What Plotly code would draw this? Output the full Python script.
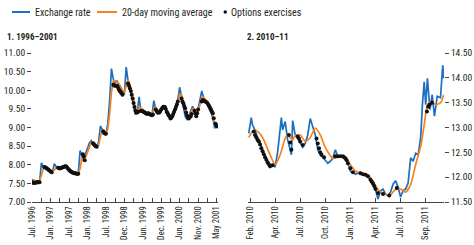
import plotly.graph_objects as go

# ---------------- Panel 1: 1996-2001 (observation index, tick every 10) ----------------
left_t = list(range(0, 102))
left_rate = [7.62, 7.55, 7.52, 7.55, 7.53, 8.05, 7.95, 7.93, 7.90, 7.86,
             7.82, 7.78, 8.03, 7.95, 7.92, 7.90, 7.93, 7.95, 7.98, 7.92,
             7.86, 7.82, 7.79, 7.77, 7.77, 7.76, 8.38, 8.25, 8.10, 8.30,
             8.45, 8.58, 8.65, 8.55, 8.50, 8.48, 8.60, 9.04, 8.95, 8.85,
             8.82, 9.10, 9.70, 10.58, 10.30, 10.20, 10.25, 10.15, 10.05, 9.95,
             9.88, 10.62, 10.25, 10.05, 9.85, 9.60, 9.35, 9.40, 9.82, 9.42,
             9.48, 9.40, 9.37, 9.40, 9.35, 9.33, 9.72, 9.50, 9.38, 9.42,
             9.50, 9.58, 9.55, 9.40, 9.33, 9.22, 9.30, 9.45, 9.60, 9.75,
             10.08, 9.80, 9.55, 9.30, 9.22, 9.30, 9.45, 9.57, 9.45, 9.27,
             9.50, 9.70, 9.98, 9.80, 9.72, 9.62, 9.50, 9.40, 9.25, 8.98,
             9.08, 9.05]
left_ma = [7.60, 7.58, 7.56, 7.55, 7.55, 7.70, 7.88, 7.93, 7.92, 7.89,
           7.85, 7.82, 7.85, 7.93, 7.94, 7.92, 7.92, 7.94, 7.96, 7.95,
           7.90, 7.85, 7.81, 7.78, 7.77, 7.76, 7.90, 8.20, 8.20, 8.20,
           8.33, 8.48, 8.60, 8.60, 8.53, 8.50, 8.52, 8.75, 8.95, 8.90,
           8.85, 8.95, 9.35, 9.95, 10.25, 10.25, 10.22, 10.18, 10.10, 10.00,
           9.95, 10.15, 10.28, 10.15, 9.98, 9.75, 9.52, 9.42, 9.55, 9.52,
           9.47, 9.43, 9.40, 9.39, 9.37, 9.35, 9.50, 9.55, 9.45, 9.42,
           9.46, 9.53, 9.55, 9.47, 9.38, 9.28, 9.28, 9.38, 9.52, 9.67,
           9.88, 9.88, 9.70, 9.45, 9.30, 9.28, 9.38, 9.50, 9.50, 9.38,
           9.42, 9.58, 9.80, 9.82, 9.76, 9.67, 9.56, 9.45, 9.32, 9.12,
           9.05, 9.05]
left_opt_t = [0, 0.5, 1, 1.5, 2, 2.5, 3, 3.5, 4,
              6.5, 7, 7.5, 8, 8.5, 9, 9.5, 10, 10.5,
              14, 14.5, 15, 15.5, 16, 16.5, 17, 17.5, 18, 18.5, 19, 19.5, 20, 20.5, 21, 21.5,
              22, 22.5, 23, 23.5, 24, 24.5, 25,
              27.5, 28, 28.5, 33, 33.5, 34, 34.5, 35, 38.5, 39, 39.5, 40,
              44, 44.5, 45, 45.5, 46, 46.5, 47, 47.5, 48, 48.5, 49,
              52, 52.5, 53, 53.5, 54, 54.5, 55, 55.5, 56, 56.5,
              57, 57.5, 59, 59.5, 60, 60.5, 61, 61.5, 62, 62.5, 63, 63.5, 64, 64.5, 65, 65.5,
              67, 67.5, 68, 68.5, 69, 69.5, 70, 70.5, 71, 71.5, 72, 72.5, 73, 73.5,
              74, 74.5, 75, 75.5, 76, 76.5, 77, 77.5, 78, 78.5, 79,
              81, 81.5, 82, 82.5, 83, 83.5, 84, 84.5, 85, 85.5, 86, 86.5, 88, 88.5,
              89, 89.5, 90, 92, 92.5, 93, 93.5, 94, 94.5, 95, 95.5, 96, 96.5, 97, 97.5,
              98, 98.5, 99.5, 100, 100.5]
left_opt_v = [7.53, 7.52, 7.52, 7.52, 7.52, 7.53, 7.53, 7.53, 7.53,
              7.94, 7.93, 7.92, 7.90, 7.88, 7.86, 7.84, 7.82, 7.80,
              7.92, 7.91, 7.90, 7.91, 7.92, 7.93, 7.94, 7.95, 7.96, 7.95, 7.92, 7.89, 7.86, 7.84, 7.82, 7.80,
              7.79, 7.78, 7.77, 7.77, 7.76, 7.76, 7.76,
              8.28, 8.22, 8.12, 8.58, 8.55, 8.52, 8.50, 8.48, 8.90, 8.85, 8.84, 8.83,
              10.15, 10.13, 10.12, 10.12, 10.12, 10.08, 10.02, 9.98, 9.95, 9.92, 9.88,
              10.18, 10.12, 10.05, 9.98, 9.88, 9.78, 9.66, 9.55, 9.45, 9.40,
              9.40, 9.42, 9.45, 9.44, 9.43, 9.42, 9.40, 9.39, 9.37, 9.37, 9.38, 9.37, 9.35, 9.34, 9.33, 9.35,
              9.48, 9.44, 9.40, 9.40, 9.40, 9.44, 9.48, 9.52, 9.55, 9.56, 9.55, 9.50, 9.42, 9.38,
              9.33, 9.30, 9.24, 9.26, 9.30, 9.36, 9.42, 9.48, 9.55, 9.62, 9.70,
              9.78, 9.70, 9.65, 9.58, 9.52, 9.40, 9.32, 9.26, 9.24, 9.28, 9.30, 9.36, 9.45, 9.38,
              9.30, 9.38, 9.48, 9.70, 9.74, 9.72, 9.71, 9.70, 9.68, 9.66, 9.62, 9.58, 9.53, 9.48, 9.43,
              9.38, 9.25, 9.10, 9.05, 9.03]
left_tick_t = list(range(0, 101, 10))
left_tick_lbl = ["Jul. 1996", "Jan. 1997", "Jul. 1997", "Jan. 1998", "Jul. 1998",
                 "Dec. 1998", "Jun. 1999", "Dec. 1999", "Jun. 2000", "Nov. 2000", "May 2001"]
left_minor_t = list(range(5, 100, 10))
left_y_ticks = [7.0, 7.5, 8.0, 8.5, 9.0, 9.5, 10.0, 10.5, 11.0]

# ---------------- Panel 2: 2010-11 (observation index, tick every 10) ----------------
right_t = [-0.5, 0, 0.5, 1, 2, 3, 4, 5, 6, 7, 8, 9, 10, 11, 12, 12.5, 13, 14, 15, 16,
           16.5, 17, 18, 19, 20, 21, 22, 23, 24, 25, 26, 27, 28, 29, 30, 31, 32, 33, 34, 35,
           36, 37, 38, 39, 40, 41, 42, 43, 44, 45, 46, 47, 48, 49, 50, 51, 52, 53, 54, 55,
           56, 57, 58, 59, 60, 61, 62, 63, 64, 65, 66, 67, 68, 68.7, 69.4, 70, 70.7, 71.7,
           72.6, 73.5, 74.6, 75.9, 76.8, 77.2]
right_rate = [12.88, 13.05, 13.20, 13.05, 12.95, 12.80, 12.70, 12.55, 12.42, 12.30,
              12.20, 12.25, 12.20, 12.50, 12.90, 13.20, 12.95, 13.12, 12.75, 12.55,
              12.45, 13.14, 12.85, 12.78, 12.70, 12.60, 12.68, 12.85, 13.18, 13.00,
              12.85, 12.55, 12.45, 12.40, 12.35, 12.28, 12.32, 12.38, 12.55, 12.42,
              12.43, 12.40, 12.38, 12.28, 12.12, 12.10, 12.06, 12.08, 12.10, 12.06,
              12.05, 12.00, 11.95, 11.83, 11.75, 11.56, 11.72, 11.76, 11.66, 11.63,
              11.70, 11.86, 11.93, 11.80, 11.60, 11.73, 11.76, 11.88, 12.39, 12.32,
              12.48, 12.45, 12.79, 13.46, 13.92, 13.46, 13.99, 13.36,
              13.66, 13.23, 13.63, 13.60, 14.25, 13.99]
right_ma_t = [-0.5, 1, 2, 3, 5, 8, 10, 12, 14, 15, 17, 18, 20, 22, 24, 26, 28, 30,
              33, 36, 38, 40, 42, 44, 47, 49, 51, 54, 56, 58, 60, 62, 64, 66, 68,
              69.4, 70.7, 72, 74, 76, 77.2]
right_ma = [12.80, 12.92, 12.95, 12.92, 12.80, 12.45, 12.25, 12.45, 12.78, 12.85,
            12.75, 12.84, 12.85, 12.72, 12.80, 12.99, 12.85, 12.60, 12.38, 12.42,
            12.40, 12.25, 12.12, 12.08, 12.05, 11.92, 11.75, 11.65, 11.65, 11.75,
            11.76, 11.70, 11.85, 12.25, 12.62, 13.05, 13.45, 13.52, 13.46, 13.50, 13.66]
right_opt_t = [1.5, 2, 2.5, 3, 3.5, 4, 4.5, 5, 5.5, 6, 6.5, 7, 7.5, 8, 9, 15.5, 16, 16.5,
               19, 19.5, 20, 21, 26.5, 27, 27.5, 28, 28.5, 29.5, 34, 35, 36, 37,
               37.5, 38, 38.5, 39, 40, 41, 44, 45, 46, 47, 48, 48.5, 49, 49.5, 50, 51, 53,
               55.5, 58.5, 70.5, 71, 71.5, 72.5]
right_opt_v = [12.92, 12.85, 12.80, 12.75, 12.72, 12.66, 12.58, 12.52, 12.46, 12.40, 12.35,
               12.30, 12.26, 12.22, 12.24,
               12.85, 12.70, 12.55, 12.82, 12.78, 12.72, 12.65, 12.78, 12.68, 12.58, 12.50, 12.45,
               12.40, 12.42, 12.42, 12.42, 12.42, 12.40, 12.38, 12.34, 12.28, 12.18, 12.10,
               12.08, 12.06, 12.05, 12.02, 11.95, 11.91, 11.87, 11.82, 11.76, 11.68, 11.66,
               11.63, 11.78, 13.32, 13.42, 13.46, 13.50]
right_tick_t = list(range(0, 71, 10))
right_tick_lbl = ["Feb. 2010", "Apr. 2010", "Jul. 2010", "Oct. 2010",
                  "Jan. 2011", "Apr. 2011", "Jul. 2011", "Sep. 2011"]
right_y_ticks = [11.5, 12.0, 12.5, 13.0, 13.5, 14.0, 14.5]

legend_names = ["Exchange rate", "20-day moving average", "Options exercises"]

BLUE = "#1f6fc0"
ORANGE = "#f7821e"
BLACK = "#111111"
TXT = "#231f20"
AX = "#444444"
FONT = "Liberation Sans Narrow, Arial Narrow, Roboto Condensed, Liberation Sans, sans-serif"

W, H = 474, 245
MT, MB = 53, 43
PH = H - MT - MB


def py(px):
    """paper y for a pixel row measured from the top"""
    return 1 + (MT - px) / PH


fig = go.Figure()

# panel 1
fig.add_trace(go.Scatter(x=left_t, y=left_rate, mode="lines", name=legend_names[0],
                         line=dict(color=BLUE, width=1.7), xaxis="x", yaxis="y"))
fig.add_trace(go.Scatter(x=left_t, y=left_ma, mode="lines", name=legend_names[1],
                         line=dict(color=ORANGE, width=1.7), xaxis="x", yaxis="y"))
fig.add_trace(go.Scatter(x=left_opt_t, y=left_opt_v, mode="markers", name=legend_names[2],
                         marker=dict(color=BLACK, size=4), xaxis="x", yaxis="y"))
# panel 2
fig.add_trace(go.Scatter(x=right_t, y=right_rate, mode="lines", name=legend_names[0],
                         line=dict(color=BLUE, width=1.7), xaxis="x2", yaxis="y2"))
fig.add_trace(go.Scatter(x=right_ma_t, y=right_ma, mode="lines", name=legend_names[1],
                         line=dict(color=ORANGE, width=1.7, shape="spline", smoothing=0.6),
                         xaxis="x2", yaxis="y2"))
fig.add_trace(go.Scatter(x=right_opt_t, y=right_opt_v, mode="markers", name=legend_names[2],
                         marker=dict(color=BLACK, size=4), xaxis="x2", yaxis="y2"))

xfont = dict(size=8.5, color=TXT, family=FONT)
yfont = dict(size=9.5, color=TXT, family=FONT)
common = dict(showgrid=False, zeroline=False, linecolor=AX, tickcolor=AX, automargin=False)

LD = [32 / W, 218 / W]
RD = [248 / W, 444 / W]

fig.update_layout(
    width=W, height=H,
    margin=dict(l=0, r=0, t=MT, b=MB, autoexpand=False),
    paper_bgcolor="white", plot_bgcolor="white",
    font=dict(family=FONT, size=10, color=TXT),
    showlegend=False,
    xaxis=dict(domain=LD, range=[-0.1, 100.8], anchor="y",
               showline=True, ticks="inside", ticklen=4, tickfont=xfont,
               tickmode="array", tickvals=left_tick_t, ticktext=left_tick_lbl, tickangle=-90,
               minor=dict(tickvals=left_minor_t, ticks="inside", ticklen=4, tickcolor=AX),
               **common),
    yaxis=dict(range=[7.0, 11.0], tickmode="array", tickvals=left_y_ticks, tickformat=".2f",
               ticks="outside", ticklen=4, showline=False, tickfont=yfont,
               anchor="x", **common),
    yaxis3=dict(range=[7.0, 11.0], tickmode="array", tickvals=left_y_ticks,
                ticks="outside", ticklen=4, showline=False, showticklabels=False,
                overlaying="y", side="right", anchor="x", **common),
    xaxis2=dict(domain=RD, range=[-0.8, 77.3], anchor="y2",
                showline=True, ticks="inside", ticklen=4, tickfont=xfont,
                tickmode="array", tickvals=right_tick_t, ticktext=right_tick_lbl, tickangle=-90,
                **common),
    yaxis2=dict(range=[11.5, 14.5], tickmode="array", tickvals=right_y_ticks, tickformat=".2f",
                side="right", ticks="outside", ticklen=4, showline=False, tickfont=yfont,
                anchor="x2", **common),
    yaxis4=dict(range=[11.5, 14.5], tickmode="array", tickvals=right_y_ticks,
                ticks="outside", ticklen=4, showline=False, showticklabels=False,
                overlaying="y2", side="left", anchor="x2", **common),
)

# legend (drawn as shapes + text)
ly = py(12)
fig.add_shape(type="line", xref="paper", yref="paper", x0=12 / W, x1=30 / W, y0=ly, y1=ly,
              line=dict(color=BLUE, width=2))
fig.add_annotation(text=legend_names[0], xref="paper", yref="paper", x=33 / W, y=ly,
                   xanchor="left", yanchor="middle", showarrow=False,
                   font=dict(size=10, color=TXT, family=FONT))
fig.add_shape(type="line", xref="paper", yref="paper", x0=97 / W, x1=117 / W, y0=ly, y1=ly,
              line=dict(color=ORANGE, width=2))
fig.add_annotation(text=legend_names[1], xref="paper", yref="paper", x=120 / W, y=ly,
                   xanchor="left", yanchor="middle", showarrow=False,
                   font=dict(size=10, color=TXT, family=FONT))
fig.add_shape(type="circle", xref="paper", yref="paper", x0=223.5 / W, x1=227 / W,
              y0=py(13.8), y1=py(10.3), fillcolor=BLACK, line=dict(color=BLACK, width=0))
fig.add_annotation(text=legend_names[2], xref="paper", yref="paper", x=229 / W, y=ly,
                   xanchor="left", yanchor="middle", showarrow=False,
                   font=dict(size=10, color=TXT, family=FONT))

# panel titles
fig.add_annotation(text="<b>1. 1996–2001</b>", xref="paper", yref="paper",
                   x=5 / W, y=py(37), xanchor="left", yanchor="middle",
                   showarrow=False, font=dict(size=9, color=TXT, family=FONT))
fig.add_annotation(text="<b>2. 2010–11</b>", xref="paper", yref="paper",
                   x=245 / W, y=py(37), xanchor="left", yanchor="middle",
                   showarrow=False, font=dict(size=9, color=TXT, family=FONT))

# remove the browser's default page margin so the figure sits at the window's corner
fig.write_html("out.html",
               config={"displayModeBar": False},
               post_script="document.body.style.margin='0';document.body.style.overflow='hidden';")
